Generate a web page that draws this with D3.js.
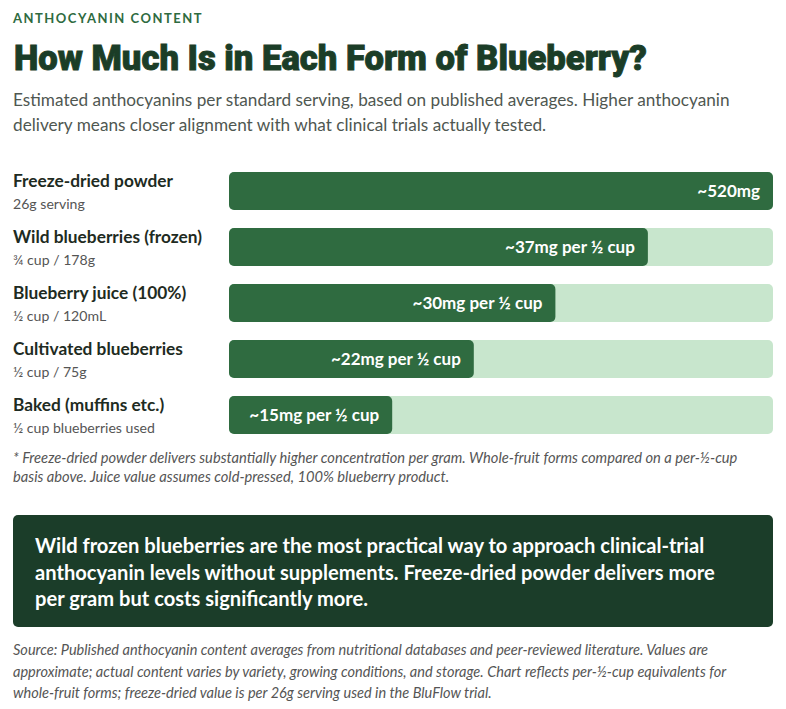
<!DOCTYPE html>
<html>
<head>
<meta charset="utf-8">
<script src="https://cdn.jsdelivr.net/npm/d3@7"></script>
<style>
  body { margin: 0; background: #fff; }
  svg { display: block; font-family: Lato, "Open Sans", sans-serif; }
</style>
</head>
<body>
<div id="chart"></div>
<script>
// chart data
const forms = ["Freeze-dried powder", "Wild blueberries (frozen)", "Blueberry juice (100%)", "Cultivated blueberries", "Baked (muffins etc.)"];
const servings = ["26g serving", "¾ cup / 178g", "½ cup / 120mL", "½ cup / 75g", "½ cup blueberries used"];
const valueLabels = ["~520mg", "~37mg per ½ cup", "~30mg per ½ cup", "~22mg per ½ cup", "~15mg per ½ cup"];
const barPct = [100, 77, 60, 45, 30];

const subtitleLines = [
  "Estimated anthocyanins per standard serving, based on published averages. Higher anthocyanin",
  "delivery means closer alignment with what clinical trials actually tested."
];
const footnoteLines = [
  "* Freeze-dried powder delivers substantially higher concentration per gram. Whole-fruit forms compared on a per-½-cup",
  "basis above. Juice value assumes cold-pressed, 100% blueberry product."
];
const calloutLines = [
  "Wild frozen blueberries are the most practical way to approach clinical-trial",
  "anthocyanin levels without supplements. Freeze-dried powder delivers more",
  "per gram but costs significantly more."
];
const sourceLines = [
  "Source: Published anthocyanin content averages from nutritional databases and peer-reviewed literature. Values are",
  "approximate; actual content varies by variety, growing conditions, and storage. Chart reflects per-½-cup equivalents for",
  "whole-fruit forms; freeze-dried value is per 26g serving used in the BluFlow trial."
];

const width = 786, height = 709;
const left = 13;

const svg = d3.select("#chart").append("svg")
    .attr("width", width)
    .attr("height", height);

// scale a text's font size so it spans the given width
function fit(sel, target) {
  const node = sel.node();
  const size = +sel.attr("font-size");
  const len = node.getComputedTextLength();
  if (len > 0) sel.attr("font-size", (size * target / len).toFixed(2));
  return +sel.attr("font-size");
}

function lines(g, data, x, y0, lh, size, color, style, weight, target) {
  const t = g.selectAll(null)
      .data(data)
      .enter().append("text")
      .attr("x", x)
      .attr("y", (d, i) => y0 + i * lh)
      .attr("font-size", size)
      .attr("fill", color)
      .attr("font-style", style || "normal")
      .attr("font-weight", weight || 400)
      .text(d => d);
  if (target) {
    const s = fit(d3.select(t.node()), target);
    t.attr("font-size", s);
  }
  return t;
}

// header
svg.append("text")
    .attr("x", left).attr("y", 23)
    .attr("fill", "#2e6b40")
    .attr("font-size", 13).attr("font-weight", 700)
    .attr("letter-spacing", 1.5)
    .text("ANTHOCYANIN CONTENT");

const title = svg.append("text")
    .attr("x", left + 1).attr("y", 70)
    .attr("fill", "#1b3d27")
    .attr("stroke", "#1b3d27").attr("stroke-width", 0.9)
    .attr("font-family", "Roboto, Lato, sans-serif")
    .attr("font-size", 31).attr("font-weight", 900)
    .text("How Much Is in Each Form of Blueberry?");
fit(title, 633);

lines(svg.append("g"), subtitleLines, left, 106, 25, 16.5, "#4f5751", null, null, 717);

// bars
const trackX = 229, trackW = 544, barH = 38, step = 56;
const x = d3.scaleLinear().domain([0, 100]).range([0, trackW]);
const y = d3.scaleBand()
    .domain(forms)
    .range([172, 172 + step * (forms.length - 1) + barH])
    .paddingInner((step - barH) / step)
    .paddingOuter(0);

const rows = svg.append("g").selectAll("g.row")
    .data(forms)
    .enter().append("g")
    .attr("class", "row")
    .attr("transform", d => "translate(0," + y(d) + ")");

const rowLabels = rows.append("text")
    .attr("x", left).attr("y", 14.7)
    .attr("font-size", 16).attr("font-weight", 700)
    .attr("fill", "#1e2b22")
    .text(d => d);
rowLabels.attr("font-size", fit(d3.select(rowLabels.node()), 160));

rows.append("text")
    .attr("x", left).attr("y", 37)
    .attr("font-size", 14.1)
    .attr("fill", "#555")
    .text((d, i) => servings[i]);

rows.append("rect")
    .attr("x", trackX).attr("y", 0)
    .attr("width", x(100))
    .attr("height", y.bandwidth())
    .attr("rx", 5)
    .attr("fill", "#c8e6cd");

rows.append("rect")
    .attr("x", trackX).attr("y", 0)
    .attr("width", (d, i) => x(barPct[i]))
    .attr("height", y.bandwidth())
    .attr("rx", 5)
    .attr("fill", "#2f6b40");

rows.append("text")
    .attr("x", (d, i) => trackX + x(barPct[i]) - 13)
    .attr("y", y.bandwidth() / 2)
    .attr("dy", "0.35em")
    .attr("text-anchor", "end")
    .attr("font-size", 17).attr("font-weight", 700)
    .attr("fill", "#fff")
    .text((d, i) => valueLabels[i]);

// footnote
lines(svg.append("g"), footnoteLines, left, 463, 19, 13, "#555", "italic", null, 725);

// callout
svg.append("rect")
    .attr("x", left).attr("y", 515)
    .attr("width", 760).attr("height", 112)
    .attr("rx", 5)
    .attr("fill", "#1b3d29");
lines(svg.append("g"), calloutLines, 35, 553, 26.5, 19, "#fff", "normal", 700, 670);

// source
lines(svg.append("g"), sourceLines, left, 655, 21.5, 12.5, "#555", "italic", null, 695);
</script>
</body>
</html>
